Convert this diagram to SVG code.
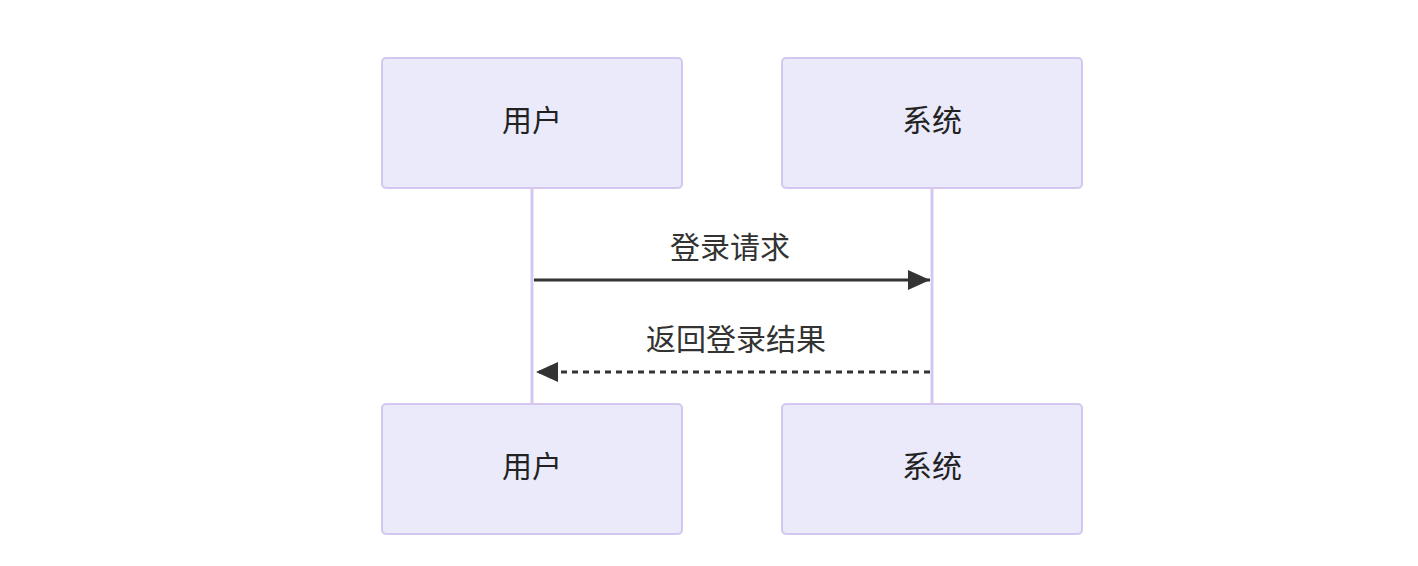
<svg xmlns="http://www.w3.org/2000/svg" width="1418" height="566" viewBox="0 0 1418 566">
<style>
.box{fill:#eaeafb;stroke:#d5c8f0;stroke-width:2}
.life{stroke:#d5c8f0;stroke-width:3}
.t{font-family:"Liberation Sans","Noto Sans CJK SC",sans-serif;font-size:30px;fill:#222;text-anchor:middle}
.m{font-family:"Liberation Sans","Noto Sans CJK SC",sans-serif;font-size:30px;fill:#333;text-anchor:middle}
</style>
<defs>
<marker id="ah" markerWidth="12" markerHeight="12" refX="10" refY="6" orient="auto" markerUnits="userSpaceOnUse"><path d="M0,0L12,6L0,12z" fill="#333"/></marker>
<marker id="ah2" markerWidth="24" markerHeight="24" refX="22" refY="10" orient="auto" markerUnits="userSpaceOnUse"><path d="M0,0L22,10L0,20z" fill="#333"/></marker>
</defs>
<g id="lifelines">
<line class="life" x1="532" y1="188" x2="532" y2="404"/>
<line class="life" x1="932" y1="188" x2="932" y2="404"/>
</g>
<g id="user-top"><rect class="box" x="382" y="58" width="300" height="130" rx="4"/><text class="t" x="532" y="123" dominant-baseline="middle">用户</text></g>
<g id="sys-top"><rect class="box" x="782" y="58" width="300" height="130" rx="4"/><text class="t" x="932" y="123" dominant-baseline="middle">系统</text></g>
<g id="user-bottom"><rect class="box" x="382" y="404" width="300" height="130" rx="4"/><text class="t" x="532" y="469" dominant-baseline="middle">用户</text></g>
<g id="sys-bottom"><rect class="box" x="782" y="404" width="300" height="130" rx="4"/><text class="t" x="932" y="469" dominant-baseline="middle">系统</text></g>
<g id="connectors">
<line x1="534" y1="280" x2="930" y2="280" stroke="#333" stroke-width="3" marker-end="url(#ah2)"/>
<text class="m" x="730" y="258">登录请求</text>
<line x1="930" y1="372" x2="536" y2="372" stroke="#333" stroke-width="3" stroke-dasharray="6,5" marker-end="url(#ah2)"/>
<text class="m" x="736" y="350">返回登录结果</text>
</g>
</svg>
